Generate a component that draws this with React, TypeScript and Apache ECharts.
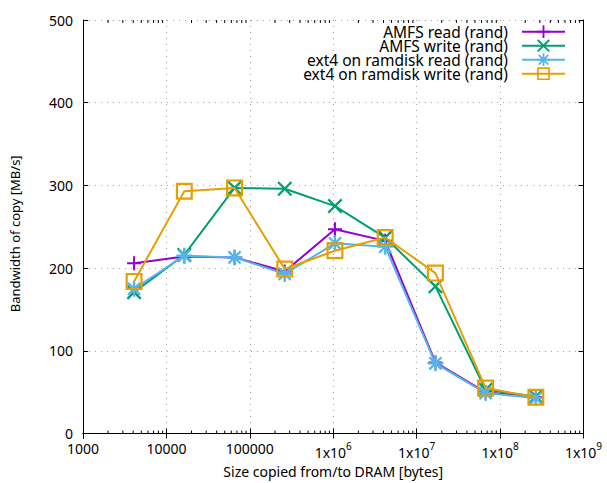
import React, { useEffect, useRef } from "react";
import * as echarts from "echarts";

// Copy size in bytes (x) and bandwidth in MB/s (y)
const sizes = [4096, 16384, 65536, 262144, 1048576, 4194304, 16777216, 67108864, 268435456];
const amfsRead = [206, 214, 213, 196, 247, 233, 86, 50, 44];
const amfsWrite = [171, 216, 297, 296, 275, 237, 178, 53, 45];
const ext4Read = [175, 215, 213, 193, 230, 226, 85, 49, 43];
const ext4Write = [184, 293, 297, 199, 221, 237, 194, 55, 44];

const seriesNames = [
  "AMFS read (rand)",
  "AMFS write (rand)",
  "ext4 on ramdisk read (rand)",
  "ext4 on ramdisk write (rand)",
];
const seriesColors = ["#9400d3", "#009e73", "#56b4e9", "#e69f00"];

const xDecades = [1000, 10000, 100000, 1e6, 1e7, 1e8, 1e9];
const xMinorMultipliers = [2, 3, 4, 5, 6, 7, 8, 9];
const yTicks = [0, 100, 200, 300, 400, 500];

const xMinorTicks: number[] = [];
xDecades.slice(0, -1).forEach((d) => xMinorMultipliers.forEach((m) => xMinorTicks.push(d * m)));

const SYM_PLUS = "path://M6,0L8,0L8,6L14,6L14,8L8,8L8,14L6,14L6,8L0,8L0,6L6,6Z";
const SYM_CROSS = "path://M0,1.5L1.5,0L14,12.5L12.5,14Z M12.5,0L14,1.5L1.5,14L0,12.5Z";
const SYM_STAR =
  "path://M6,0L8,0L8,6L14,6L14,8L8,8L8,14L6,14L6,8L0,8L0,6L6,6Z M1,2.4L2.4,1L13,11.6L11.6,13Z M11.6,1L13,2.4L2.4,13L1,11.6Z";
const SYM_SQUARE = "path://M0,0L17,0L17,17L0,17Z M2.2,2.2L2.2,14.8L14.8,14.8L14.8,2.2Z";

const symbols = [SYM_PLUS, SYM_CROSS, SYM_STAR, SYM_SQUARE];
const symbolSizes = [14, 15, 16, 17];
const allValues = [amfsRead, amfsWrite, ext4Read, ext4Write];

function xLabel(v: number): string {
  const e = Math.round(Math.log10(v));
  if (e >= 6) return "{b|1x10}{s|" + e + "}";
  return "{n|" + Math.round(Math.pow(10, e)) + "}";
}

export default function App() {
  const ref = useRef<HTMLDivElement>(null);
  useEffect(() => {
    document.body.style.margin = "0";
    if (!ref.current) return;
    const chart = echarts.init(ref.current, undefined, { renderer: "svg" });
    const black = "#000";
    const gridLine = { show: true, lineStyle: { color: "#a0a0a0", width: 1, type: [1, 5] as any } };
    const baseX = {
      type: "log" as const,
      logBase: 10,
      min: 1000,
      max: 1e9,
      gridIndex: 0,
    };
    const yMin = yTicks[0];
    const yMax = yTicks[yTicks.length - 1];
    const option: any = {
      animation: false,
      textStyle: { fontFamily: "Noto Sans", color: black },
      grid: { left: 79, right: 23.5, top: 20, bottom: 44, containLabel: false },
      legend: {
        data: seriesNames,
        orient: "vertical",
        align: "right",
        right: 36,
        top: 18.7,
        itemWidth: 43,
        itemHeight: 16,
        itemGap: -2,
        selectedMode: false,
        textStyle: {
          fontSize: 15.5,
          lineHeight: 14,
          color: black,
          padding: [0, 9, 0, 0],
          fontFamily: "Noto Sans",
        },
      },
      xAxis: [
        {
          ...baseX,
          position: "bottom",
          name: "Size copied from/to DRAM [bytes]",
          nameLocation: "middle",
          nameGap: 27,
          nameTextStyle: { fontSize: 14, color: black, fontFamily: "Noto Sans" },
          axisLine: { show: true, lineStyle: { color: black, width: 1 } },
          axisTick: { show: true, inside: true, length: 5, lineStyle: { color: black } },
          axisLabel: {
            show: true,
            margin: 7,
            formatter: xLabel,
            color: black,
            rich: {
              n: { fontSize: 14, lineHeight: 16, verticalAlign: "middle", color: black, fontFamily: "Noto Sans" },
              b: { fontSize: 14, lineHeight: 23, verticalAlign: "middle", color: black, fontFamily: "Noto Sans" },
              s: { fontSize: 10, lineHeight: 12, verticalAlign: "top", color: black, fontFamily: "Noto Sans" },
            },
          },
          splitLine: gridLine,
          minorTick: { show: false },
        },
        {
          ...baseX,
          position: "top",
          axisLine: { show: true, lineStyle: { color: black, width: 1 } },
          axisTick: { show: true, inside: true, length: 5, lineStyle: { color: black } },
          axisLabel: { show: false },
          splitLine: { show: false },
        },
      ],
      yAxis: [
        {
          type: "value",
          min: yMin,
          max: yMax,
          interval: 100,
          position: "left",
          name: "Bandwidth of copy [MB/s]",
          nameLocation: "middle",
          nameGap: 62,
          nameTextStyle: { fontSize: 13, color: black, fontFamily: "Noto Sans", padding: [0, 0, 0, -14] },
          axisLine: { show: true, lineStyle: { color: black, width: 1 } },
          axisTick: { show: true, inside: true, length: 5, lineStyle: { color: black } },
          axisLabel: { show: true, margin: 10, fontSize: 14, color: black },
          splitLine: gridLine,
        },
        {
          type: "value",
          min: yMin,
          max: yMax,
          interval: 100,
          position: "right",
          axisLine: { show: true, lineStyle: { color: black, width: 1 } },
          axisTick: { show: true, inside: true, length: 5, lineStyle: { color: black } },
          axisLabel: { show: false },
          splitLine: { show: false },
        },
      ],
      series: [
        {
          name: "minor-ticks",
          type: "custom",
          xAxisIndex: 0,
          yAxisIndex: 0,
          silent: true,
          clip: false,
          z: 1,
          encode: { x: 0, y: 1 },
          data: xMinorTicks.map((v) => [v, yMin]),
          renderItem: (params: any, api: any) => {
            const x = api.value(0);
            const pb = api.coord([x, yMin]);
            const pt = api.coord([x, yMax]);
            const st = { stroke: black, lineWidth: 1 };
            return {
              type: "group",
              children: [
                { type: "line", shape: { x1: pb[0], y1: pb[1], x2: pb[0], y2: pb[1] - 3 }, style: st },
                { type: "line", shape: { x1: pt[0], y1: pt[1], x2: pt[0], y2: pt[1] + 3 }, style: st },
              ],
            };
          },
        },
        ...seriesNames.map((name, i) => ({
          name,
          type: "line",
          xAxisIndex: 0,
          yAxisIndex: 0,
          data: sizes.map((s, j) => [s, allValues[i][j]]),
          symbol: symbols[i],
          symbolSize: symbolSizes[i],
          showAllSymbol: true,
          lineStyle: { color: seriesColors[i], width: 2 },
          itemStyle: { color: seriesColors[i], borderWidth: 0 },
          emphasis: { disabled: true },
          z: 2 + i,
        })),
      ],
    };
    chart.setOption(option);
    return () => chart.dispose();
  }, []);
  return <div ref={ref} style={{ width: 607, height: 483 }} />;
}
